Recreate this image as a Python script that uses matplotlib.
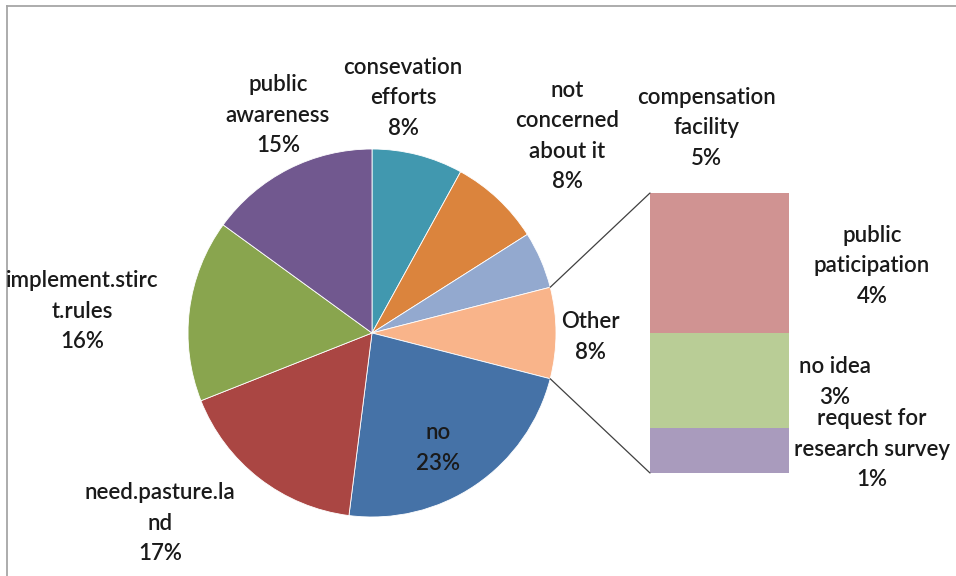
import numpy as np
import matplotlib.pyplot as plt
from matplotlib.patches import ConnectionPatch
from matplotlib.lines import Line2D

plt.rcParams['font.family'] = ['Lato', 'DejaVu Sans']

# main pie slices, clockwise from 12 o'clock ("Other" is filled in from the breakdown)
main_labels = ["consevation\nefforts", "not\nconcerned\nabout it", "compensation\nfacility",
               "Other", "no", "need.pasture.la\nnd", "implement.stirc\nt.rules",
               "public\nawareness"]
main_values = [8, 8, 5, None, 23, 17, 16, 15]
main_colors = ["#4198AF", "#DB843D", "#93A9CF", "#F9B48A", "#4572A7", "#AA4643",
               "#89A54E", "#71588F"]

# breakdown of "Other", top to bottom
sub_labels = ["public\npaticipation", "no idea", "request for\nresearch survey"]
sub_values = [4.0, 2.7, 1.3]
sub_colors = ["#D09392", "#B9CD96", "#A99BBD"]

other_total = sum(sub_values)
main_values[3] = other_total
total = sum(main_values)

W, H = 956, 576
fig = plt.figure(figsize=(W / 100, H / 100), dpi=100)


def px_box(x0, y0, x1, y1):
    # pixel box (top-left origin) -> figure fraction rect
    return [x0 / W, 1 - y1 / H, (x1 - x0) / W, (y1 - y0) / H]


# chart area border (only top and left edges fall inside the image)
border = dict(transform=fig.transFigure, color="#A6A6A6", linewidth=1.3)
fig.add_artist(Line2D([7 / W, 1], [1 - 6 / H, 1 - 6 / H], **border))
fig.add_artist(Line2D([7 / W, 7 / W], [0, 1 - 6 / H], **border))

# pie
cx, cy, r = 372, 333, 184
pie_ax = fig.add_axes(px_box(cx - r, cy - r, cx + r, cy + r))
wedges, _ = pie_ax.pie(main_values, colors=main_colors, startangle=90, counterclock=False,
                       radius=1, wedgeprops=dict(edgecolor="white", linewidth=0.6))
pie_ax.set_xlim(-1, 1)
pie_ax.set_ylim(-1, 1)
pie_ax.set_aspect("equal")
pie_ax.axis("off")

# stacked bar for the "Other" breakdown
bar_ax = fig.add_axes(px_box(650, 193, 789, 473))
bottom = other_total
for v, c in zip(sub_values, sub_colors):
    bottom -= v
    bar_ax.bar(0, v, bottom=bottom, width=1, color=c, edgecolor="none")
bar_ax.set_xlim(-0.5, 0.5)
bar_ax.set_ylim(0, other_total)
bar_ax.axis("off")

# connector lines from the "Other" wedge to the bar
other = wedges[3]
for ang, ybar in [(other.theta2, other_total), (other.theta1, 0)]:
    a = np.deg2rad(ang)
    con = ConnectionPatch(xyA=(np.cos(a), np.sin(a)), coordsA=pie_ax.transData,
                          xyB=(-0.5, ybar), coordsB=bar_ax.transData,
                          color="#404040", linewidth=0.9)
    fig.add_artist(con)

# data labels (pixel centres)
main_pos = [(403, 98), (567, 136), (706, 128), (590, 337), (438, 448), (160, 523),
            (82, 311), (278, 115)]
sub_pos = [(872, 266), (835, 382), (872, 449)]

label_style = dict(ha="center", va="center", fontsize=16, fontweight="semibold",
                   color="#1A1A1A", linespacing=1.55)
for lab, v, (x, y) in zip(main_labels, main_values, main_pos):
    fig.text(x / W, 1 - y / H, f"{lab}\n{v / total:.0%}", **label_style)
for lab, v, (x, y) in zip(sub_labels, sub_values, sub_pos):
    fig.text(x / W, 1 - y / H, f"{lab}\n{v / total:.0%}", **label_style)

fig.savefig("out.png", dpi=100)
